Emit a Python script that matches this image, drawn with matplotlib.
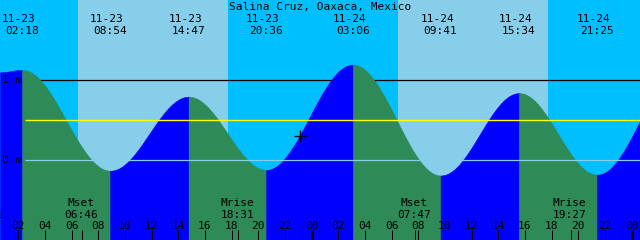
import numpy as np
import matplotlib
matplotlib.use('Agg')
from matplotlib import pyplot as plt

# hours counted from 11-23 00:00 local time
title = 'Salina Cruz, Oaxaca, Mexico'

# tide extremes (time in hours, height in m)
tide_times = [2.30, 8.90, 14.783, 20.60, 27.10, 33.683, 39.567, 45.417]
tide_heights = [1.12, -0.14, 0.785, -0.13, 1.185, -0.20, 0.83, -0.19]
tide_dates = ['11-23', '11-23', '11-23', '11-23', '11-24', '11-24', '11-24', '11-24']
tide_clock = ['02:18', '08:54', '14:47', '20:36', '03:06', '09:41', '15:34', '21:25']
# curve at the left edge and the next high after the chart (11-25 ~04:00)
edge_height = 1.09
next_time, next_height = 52.0, 1.20

# sun: daylight spans
sunrise = [6.487, 30.487]
sunset = [17.737, 41.737]

# moon events (first one lies just before the chart, only its tail shows)
moon_times = [-0.317, 6.767, 18.517, 31.783, 43.45]
moon_names = ['', 'Mset', 'Mrise', 'Mset', 'Mrise']
moon_clock = ['23:41', '06:46', '18:31', '07:47', '19:27']

# current-time marker
now_time, now_height = 23.14, 0.30

mean_level = 0.49

# chart geometry in pixels
T0 = 0.637
PX_PER_H = 640 / 48.0
ZERO_PX = 159.5
PX_PER_M = 80.0


def py(y):
    return (ZERO_PX - y) / PX_PER_M


def px(x):
    return T0 + x / PX_PER_H


NIGHT = '#00bfff'
DAY = '#87ceeb'
RISE = '#0000ff'
FALL = '#2e8b57'
FONT = 'DejaVu Sans Mono'

fig = plt.figure(figsize=(6.4, 2.4), dpi=100)
ax = fig.add_axes([0, 0, 1, 1])
x0, x1 = T0, T0 + 48
ybot, ytop = py(240), py(0)
ax.set_xlim(x0, x1)
ax.set_ylim(ybot, ytop)
ax.axis('off')

ax.axvspan(x0, x1, color=NIGHT, lw=0, zorder=0)
for a, b in zip(sunrise, sunset):
    ax.axvspan(a, b, color=DAY, lw=0, zorder=0)

# 1 m line sits behind the water
ax.hlines(1.0, px(25), x1, color='black', lw=0.9, zorder=1)

# tide curve, half-cosine between extremes
pts_t = [x0] + tide_times + [next_time]
pts_h = [edge_height] + tide_heights + [next_height]
for i in range(len(pts_t) - 1):
    ta, tb = pts_t[i], pts_t[i + 1]
    ha, hb = pts_h[i], pts_h[i + 1]
    t = np.linspace(ta, min(tb, x1), 300)
    h = ha + (hb - ha) * (1 - np.cos(np.pi * (t - ta) / (tb - ta))) / 2
    c = RISE if hb > ha else FALL
    ax.fill_between(t, h, ybot, color=c, lw=0.4, edgecolor=c, zorder=2)

ax.hlines(mean_level, px(25), x1, color='#ffff00', lw=1.0, zorder=3)
ax.hlines(0.0, px(25), x1, color=DAY, lw=0.9, zorder=3)

ax.plot([now_time], [now_height], marker='+', color='black',
        markersize=9, mew=1.0, zorder=5)

fs = 8
ax.text(x0 + 24, py(9.7), title, ha='center', va='baseline',
        family=FONT, fontsize=fs, zorder=6)
ax.text(px(2), py(83.3), '1 m', ha='left', va='baseline',
        family=FONT, fontsize=fs, zorder=6)
ax.text(px(2), py(163.3), '0 m', ha='left', va='baseline',
        family=FONT, fontsize=fs, zorder=6)

for t, d, c in zip(tide_times, tide_dates, tide_clock):
    ax.text(t - 3.3 / PX_PER_H, py(21.7), d, ha='center', va='baseline',
            family=FONT, fontsize=fs, zorder=6)
    ax.text(t, py(34), c, ha='center', va='baseline',
            family=FONT, fontsize=fs, zorder=6)

for t, n, c in zip(moon_times, moon_names, moon_clock):
    if n:
        ax.text(t - 1 / PX_PER_H, py(206), n, ha='center', va='baseline',
                family=FONT, fontsize=fs, zorder=6)
    ax.text(t - 1 / PX_PER_H, py(217.7), c, ha='center', va='baseline',
            family=FONT, fontsize=fs, zorder=6)
    ax.vlines(t, ybot, py(230), color='black', lw=0.72, zorder=6)

# hour ticks every 2 hours
for hr in range(2, 50, 2):
    lw = 2.2 if hr % 24 == 0 else 0.72
    ax.vlines(hr, ybot, py(230), color='black', lw=lw, zorder=6)
    ax.text(hr, py(229.3), '%02d' % (hr % 24), ha='center', va='baseline',
            family=FONT, fontsize=fs, zorder=6)

fig.savefig('out.png', dpi=100)
